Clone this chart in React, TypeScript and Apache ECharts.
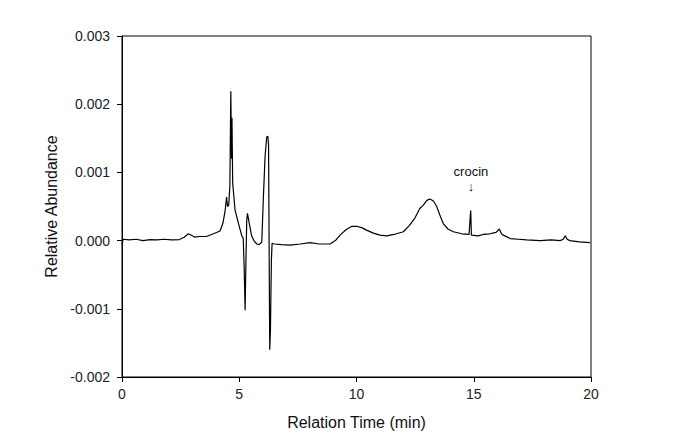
import React, { useEffect, useRef } from "react";
import * as echarts from "echarts";

// Retention time (min)
const times: number[] = [
  0.0, 0.05, 0.3, 0.6, 0.9, 1.2, 1.5, 1.8, 2.1, 2.45, 2.65, 2.83, 3.0, 3.11, 3.3, 3.6, 3.9, 4.18, 4.3, 4.39,
  4.46, 4.5, 4.55, 4.6, 4.64, 4.67, 4.69, 4.72, 4.82, 4.96, 5.1, 5.17, 5.21, 5.25, 5.29, 5.32, 5.35, 5.43,
  5.52, 5.62, 5.75, 5.85, 5.96, 6.03, 6.1, 6.17, 6.22, 6.25, 6.28, 6.3, 6.33, 6.37, 6.4, 6.5, 6.8, 7.16,
  7.6, 8.02, 8.4, 8.87, 9.1, 9.3, 9.55, 9.8, 10.0, 10.22, 10.45, 10.72, 11.0, 11.29, 11.6, 12.0, 12.25,
  12.49, 12.7, 12.85, 13.0, 13.13, 13.28, 13.42, 13.55, 13.7, 13.9, 14.13, 14.5, 14.8, 14.84, 14.87, 14.9,
  15.18, 15.4, 15.69, 15.95, 16.09, 16.18, 16.26, 16.55, 16.9, 17.26, 17.83, 18.3, 18.68, 18.82, 18.9,
  18.98, 19.1, 19.5, 19.96,
];

// Relative abundance, in units of 0.001
const abundanceMilli: number[] = [
  -0.06, 0.02, 0.01, 0.02, 0.0, 0.015, 0.01, 0.02, 0.01, 0.015, 0.05, 0.1, 0.07, 0.05, 0.06, 0.06, 0.1, 0.14,
  0.25, 0.42, 0.64, 0.5, 0.52, 0.8, 2.19, 1.2, 1.8, 0.84, 0.45, 0.26, 0.08, 0.03, -0.4, -1.02, -0.2, 0.3, 0.4,
  0.25, 0.08, 0.0, -0.05, -0.06, -0.02, 0.64, 1.23, 1.52, 1.53, 1.4, -0.47, -1.6, -1.31, -0.3, -0.04, -0.05,
  -0.06, -0.065, -0.05, -0.03, -0.05, -0.05, 0.0, 0.08, 0.16, 0.21, 0.21, 0.19, 0.15, 0.11, 0.08, 0.07, 0.09,
  0.13, 0.22, 0.33, 0.47, 0.52, 0.59, 0.61, 0.58, 0.5, 0.38, 0.25, 0.17, 0.13, 0.1, 0.09, 0.3, 0.44, 0.08,
  0.07, 0.09, 0.1, 0.12, 0.17, 0.1, 0.08, 0.03, 0.02, 0.01, 0.0, 0.01, 0.0, 0.02, 0.07, 0.02, 0.0, -0.02,
  -0.03,
];

const annotationText = "crocin";
const annotationArrow = "↓";
const annotationTime = 14.88;
const annotationMilli = 0.9;

const xAxisName = "Relation Time (min)";
const yAxisName = "Relative Abundance";

export default function App() {
  const ref = useRef<HTMLDivElement>(null);

  useEffect(() => {
    if (!ref.current) return;
    const chart = echarts.init(ref.current, null, { renderer: "svg" });
    const data = times.map((t, i) => [t, abundanceMilli[i] * 0.001]);
    const font = "Liberation Sans, Arial, sans-serif";
    chart.setOption({
      animation: false,
      backgroundColor: "#fff",
      grid: {
        left: 122,
        top: 36,
        width: 469,
        height: 341,
        show: true,
        borderColor: "#000",
        borderWidth: 1,
      },
      xAxis: {
        type: "value",
        min: 0,
        max: 20,
        interval: 5,
        name: xAxisName,
        nameLocation: "middle",
        nameGap: 37,
        nameTextStyle: { fontFamily: font, fontSize: 16, color: "#111" },
        axisLine: { show: true, onZero: false, lineStyle: { color: "#000", width: 1 } },
        axisTick: { show: true, inside: false, length: 5, lineStyle: { color: "#000" } },
        axisLabel: { margin: 10, fontFamily: font, fontSize: 14, color: "#222" },
        splitLine: { show: false },
      },
      yAxis: {
        type: "value",
        min: -0.002,
        max: 0.003,
        interval: 0.001,
        name: yAxisName,
        nameLocation: "middle",
        nameGap: 63,
        nameRotate: 90,
        nameTextStyle: { fontFamily: font, fontSize: 16, color: "#111" },
        axisLine: { show: true, onZero: false, lineStyle: { color: "#000", width: 1 } },
        axisTick: { show: true, inside: false, length: 5, lineStyle: { color: "#000" } },
        axisLabel: {
          margin: 12,
          fontFamily: font,
          fontSize: 14,
          color: "#222",
          formatter: (v: number) => v.toFixed(3),
        },
        splitLine: { show: false },
      },
      series: [
        {
          type: "line",
          data,
          symbol: "none",
          lineStyle: { color: "#000", width: 1.2 },
          markPoint: {
            symbol: "circle",
            symbolSize: 0,
            data: [
              {
                coord: [annotationTime, annotationMilli * 0.001],
                label: {
                  show: true,
                  position: "inside",
                  formatter: annotationText + "\n" + annotationArrow,
                  fontFamily: "Liberation Sans",
                  fontSize: 13,
                  lineHeight: 15,
                  color: "#111",
                },
              },
            ],
          },
        },
      ],
    });
    return () => chart.dispose();
  }, []);

  return (
    <div
      ref={ref}
      style={{ position: "fixed", left: 0, top: 0, width: 681, height: 448 }}
    />
  );
}
